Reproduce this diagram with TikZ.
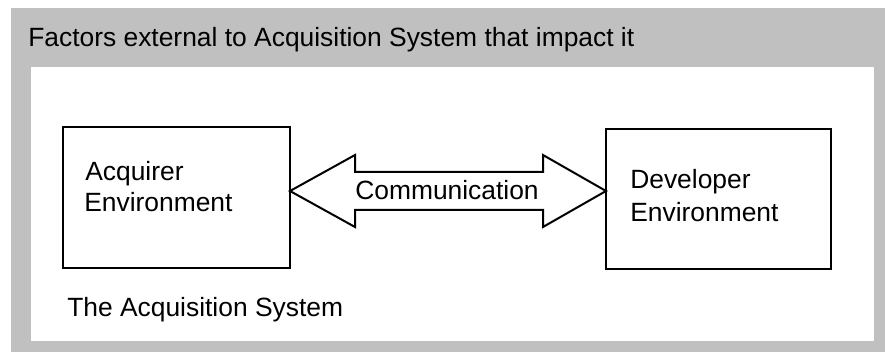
\documentclass[tikz,border=0pt]{standalone}
\usepackage{fontspec}
\setmainfont{Liberation Sans}
\definecolor{outergray}{RGB}{192,192,192}
\begin{document}
\begin{tikzpicture}[x=0.75pt,y=-0.75pt,
  txt/.style={inner sep=0pt,anchor=base west,font=\fontsize{19.8pt}{23pt}\selectfont},
  envbox/.style={draw=black,line width=1.5pt,fill=white},
  commarrow/.style={draw=black,line width=1.5pt,fill=white,line join=miter}]
\useasboundingbox (0,0) rectangle (885,352);
\fill[outergray] (11,8) rectangle (885,352);
\fill[white] (31,67) rectangle (874,341);
\node[txt] (title) at (28,46.5) {Factors external to Acquisition System that impact it};
\draw[envbox] (63,127) rectangle (290,268);
\coordinate (acqR) at (290,191);
\draw[envbox] (606,129) rectangle (831,269);
\coordinate (devL) at (606,191);
\node[txt] (acq1) at (85,181) {Acquirer};
\node[txt] (acq2) at (84,212) {Environment};
\node[txt] (dev1) at (630,189) {Developer};
\node[txt] (dev2) at (630,221.5) {Environment};
\draw[commarrow] (acqR) -- (355,155) -- (355,172) -- (543,172) -- (543,155) -- (devL)
  -- (543,227) -- (543,210) -- (355,210) -- (355,227) -- cycle;
\node[txt,anchor=base] (comm) at (447,199.5) {Communication};
\node[txt] (sys) at (67,316.5) {The Acquisition System};
\end{tikzpicture}
\end{document}
